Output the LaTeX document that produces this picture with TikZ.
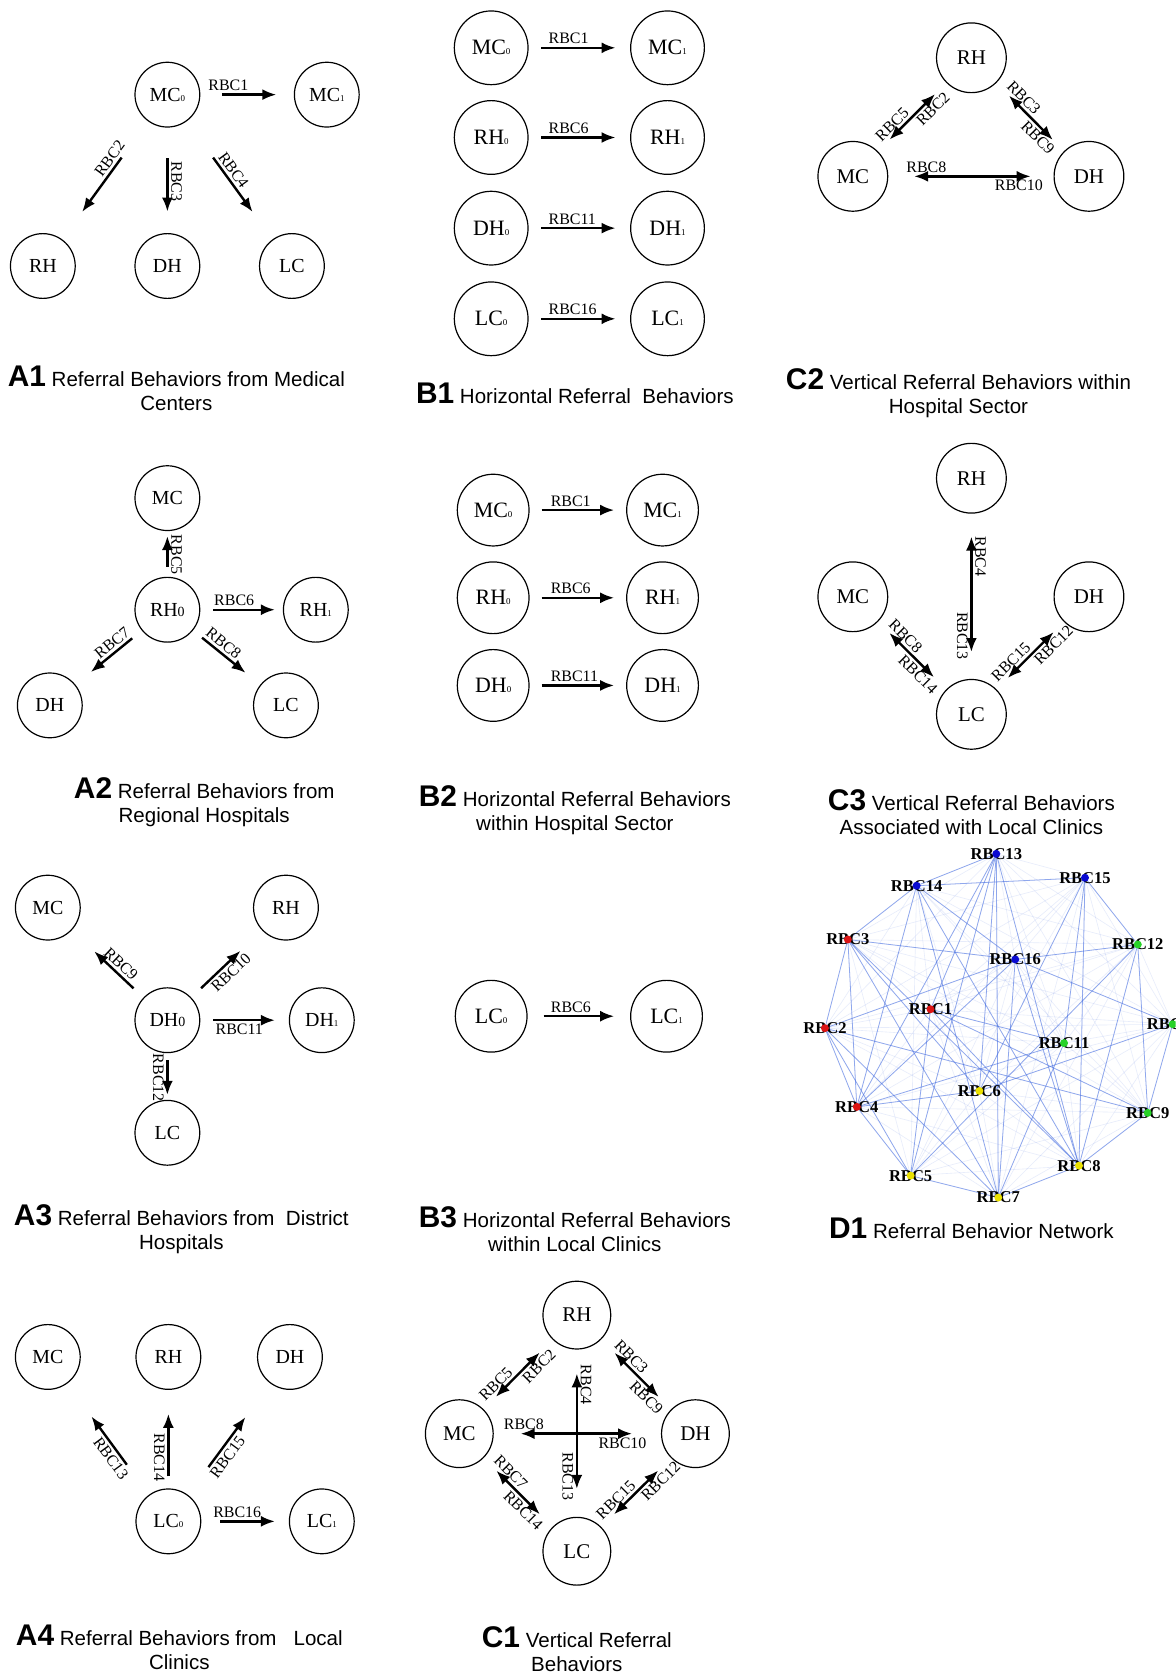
\documentclass[tikz,border=0pt]{standalone}
\usepackage{fontspec}
\setmainfont{Liberation Serif}
\setsansfont{Liberation Sans}
\usetikzlibrary{arrows.meta}
\tikzstyle{state} = [draw, circle, line width=0.6pt, inner sep=0pt, minimum size=32.5pt, font=\fontsize{10}{10}\selectfont]
\tikzstyle{bstate} = [state, minimum size=37pt, font=\fontsize{11}{11}\selectfont]
\tikzstyle{cstate} = [state, minimum size=35pt, font=\fontsize{10.5}{10.5}\selectfont]
\tikzstyle{arr} = [->, line width=1.2pt]
\tikzstyle{barr} = [<->, line width=1.2pt]
\tikzstyle{lbl} = [font=\fontsize{8}{8}\selectfont, inner sep=1.3pt]
\tikzstyle{captxt} = [align=center, font=\sffamily\fontsize{10.3}{12}\selectfont]
\tikzstyle{netdot} = [circle, inner sep=0pt, minimum size=4pt]
\tikzstyle{netlbl} = [font=\bfseries\fontsize{8.3}{8.3}\selectfont, inner sep=0pt]
\tikzstyle{netedge} = [draw=netblue, line width=0.4pt, opacity=0.55]
\tikzstyle{netfaint} = [draw=netblue, line width=0.3pt, opacity=0.13]
\tikzset{gap/.style 2 args={shorten <=#1, shorten >=#2}}
\definecolor{netblue}{RGB}{70,110,225}
\definecolor{netred}{RGB}{220,20,20}
\definecolor{netgreen}{RGB}{40,210,40}
\definecolor{netyellow}{RGB}{235,225,0}
\definecolor{netdark}{RGB}{10,10,210}
\newcommand{\sidx}[1]{{\fontsize{4.5}{4.5}\selectfont #1}}
\newcommand{\lidx}[1]{{\fontsize{7}{7}\selectfont #1}}
\newcommand{\panel}[1]{{\fontsize{15}{15}\selectfont\bfseries #1}}

\begin{document}
\begin{tikzpicture}[x=0.5pt, y=-0.5pt, >={Latex[length=7pt,width=5.5pt]}]

\fill[white] (0,0) rectangle (1180,1678);

% A1
\node [state] (a1mc0) at (168,95) {MC\sidx{0}};
\node [state] (a1mc1) at (328,95) {MC\sidx{1}};
\node [state] (a1rh) at (43,267) {RH};
\node [state] (a1dh) at (168,267) {DH};
\node [state] (a1lc) at (293,267) {LC};
\draw [arr, gap={10.8pt}{8.8pt}] (a1mc0) -- node [lbl, pos=0.3, above] {RBC1} (a1mc1);
\draw [arr, gap={22.5pt}{17pt}] (a1mc0) -- node [lbl, pos=0.36, sloped, above] {RBC2} (a1rh);
\draw [arr, gap={15.3pt}{10.8pt}] (a1mc0) -- node [lbl, pos=0.51, rotate=-90, above] {RBC3} (a1dh);
\draw [arr, gap={22.5pt}{17pt}] (a1mc0) -- node [lbl, pos=0.46, sloped, above] {RBC4} (a1lc);
\node [captxt] (capa1) at (177,390) {\panel{A1} Referral Behaviors from Medical\\Centers};

% B1
\node [bstate] (b1mc0) at (493,48) {MC\sidx{0}};
\node [bstate] (b1mc1) at (670,48) {MC\sidx{1}};
\node [bstate] (b1rh0) at (493,138) {RH\sidx{0}};
\node [bstate] (b1rh1) at (670,138) {RH\sidx{1}};
\node [bstate] (b1dh0) at (493,229) {DH\sidx{0}};
\node [bstate] (b1dh1) at (670,229) {DH\sidx{1}};
\node [bstate] (b1lc0) at (493,320) {LC\sidx{0}};
\node [bstate] (b1lc1) at (670,320) {LC\sidx{1}};
\draw [arr, gap={6.3pt}{7.3pt}] (b1mc0) -- node [lbl, pos=0.16, above right] {RBC1} (b1mc1);
\draw [arr, gap={6.3pt}{7.3pt}] (b1rh0) -- node [lbl, pos=0.16, above right] {RBC6} (b1rh1);
\draw [arr, gap={6.3pt}{7.3pt}] (b1dh0) -- node [lbl, pos=0.16, above right] {RBC11} (b1dh1);
\draw [arr, gap={6.3pt}{7.3pt}] (b1lc0) -- node [lbl, pos=0.16, above right] {RBC16} (b1lc1);
\node [captxt] (capb1) at (577,395) {\panel{B1} Horizontal Referral\ \ Behaviors};

% C2
\node [cstate] (c2rh) at (975,58) {RH};
\node [cstate] (c2mc) at (856,177) {MC};
\node [cstate] (c2dh) at (1093,177) {DH};
\draw [barr, gap={8.3pt}{8pt}] (c2mc) -- node [lbl, pos=0.3, sloped, above] {RBC5} node [lbl, pos=0.71, sloped, below] {RBC2} (c2rh);
\draw [barr, gap={9pt}{8pt}] (c2rh) -- node [lbl, pos=0.31, sloped, above] {RBC3} node [lbl, pos=0.71, sloped, below] {RBC9} (c2dh);
\draw [barr, gap={13pt}{11.5pt}] (c2mc) -- node [lbl, pos=0.23, above] {RBC8} node [lbl, pos=0.79, below] {RBC10} (c2dh);
\node [captxt] (capc2) at (962,395) {\panel{C2} Vertical Referral Behaviors within\\Hospital Sector};

% A2
\node [state] (a2mc) at (168,500) {MC};
\node [state] (a2rh0) at (168,612) {RH\lidx{0}};
\node [state] (a2rh1) at (317,612) {RH\sidx{1}};
\node [state] (a2dh) at (50,708) {DH};
\node [state] (a2lc) at (287,708) {LC};
\draw [arr, gap={5pt}{2.5pt}] (a2rh0) -- node [lbl, pos=0.48, rotate=-90, above] {RBC5} (a2mc);
\draw [arr, gap={6.5pt}{4pt}] (a2rh0) -- node [lbl, pos=0.41, above] {RBC6} (a2rh1);
\draw [arr, gap={6.2pt}{10pt}] (a2rh0) -- node [lbl, pos=0.36, sloped, above] {RBC7} (a2dh);
\draw [arr, gap={5.8pt}{9.5pt}] (a2rh0) -- node [lbl, pos=0.37, sloped, above] {RBC8} (a2lc);
\node [captxt] (capa2) at (205,805) {\panel{A2} Referral Behaviors from\\Regional Hospitals};

% B2
\node [bstate, minimum size=36pt] (b2mc0) at (495,512) {MC\sidx{0}};
\node [bstate, minimum size=36pt] (b2mc1) at (665,512) {MC\sidx{1}};
\node [bstate, minimum size=36pt] (b2rh0) at (495,600) {RH\sidx{0}};
\node [bstate, minimum size=36pt] (b2rh1) at (665,600) {RH\sidx{1}};
\node [bstate, minimum size=36pt] (b2dh0) at (495,688) {DH\sidx{0}};
\node [bstate, minimum size=36pt] (b2dh1) at (665,688) {DH\sidx{1}};
\draw [arr, gap={6pt}{6pt}] (b2mc0) -- node [lbl, pos=0.18, above right] {RBC1} (b2mc1);
\draw [arr, gap={6pt}{6pt}] (b2rh0) -- node [lbl, pos=0.18, above right] {RBC6} (b2rh1);
\draw [arr, gap={6pt}{6pt}] (b2dh0) -- node [lbl, pos=0.18, above right] {RBC11} (b2dh1);
\node [captxt] (capb2) at (577,813) {\panel{B2} Horizontal Referral Behaviors\\within Hospital Sector};

% C3
\node [cstate] (c3rh) at (975,480) {RH};
\node [cstate] (c3mc) at (856,599) {MC};
\node [cstate] (c3dh) at (1093,599) {DH};
\node [cstate] (c3lc) at (975,717) {LC};
\draw [barr, gap={11.5pt}{13.5pt}] (c3rh) -- node [lbl, pos=0.26, rotate=-90, above] {RBC4} node [lbl, pos=0.74, rotate=-90, below] {RBC13} (c3lc);
\draw [barr, gap={8pt}{8.7pt}] (c3mc) -- node [lbl, pos=0.31, sloped, above] {RBC8} node [lbl, pos=0.68, sloped, below] {RBC14} (c3lc);
\draw [barr, gap={7.3pt}{8pt}] (c3dh) -- node [lbl, pos=0.69, sloped, above] {RBC15} node [lbl, pos=0.25, sloped, below] {RBC12} (c3lc);
\node [captxt] (capc3) at (975,815) {\panel{C3} Vertical Referral Behaviors\\Associated with Local Clinics};

% A3
\node [state] (a3mc) at (48,911) {MC};
\node [state] (a3rh) at (287,911) {RH};
\node [state] (a3dh0) at (168,1024) {DH\lidx{0}};
\node [state] (a3dh1) at (323,1024) {DH\sidx{1}};
\node [state] (a3lc) at (168,1137) {LC};
\draw [arr, gap={6.8pt}{15.5pt}] (a3dh0) -- node [lbl, pos=0.4, sloped, above] {RBC9} (a3mc);
\draw [arr, gap={6.8pt}{15pt}] (a3dh0) -- node [lbl, pos=0.47, sloped, below] {RBC10} (a3rh);
\draw [arr, gap={6.5pt}{7pt}] (a3dh0) -- node [lbl, pos=0.44, below] {RBC11} (a3dh1);
\draw [arr, gap={3.5pt}{2.5pt}] (a3dh0) -- node [lbl, pos=0.53, rotate=-90, below] {RBC12} (a3lc);
\node [captxt] (capa3) at (182,1234) {\panel{A3} Referral Behaviors from\ \ District\\Hospitals};

% B3
\node [bstate, minimum size=36pt] (b3lc0) at (493,1020) {LC\sidx{0}};
\node [bstate, minimum size=36pt] (b3lc1) at (669,1020) {LC\sidx{1}};
\draw [arr, gap={8pt}{8pt}] (b3lc0) -- node [lbl, pos=0.19, above right] {RBC6} (b3lc1);
\node [captxt] (capb3) at (577,1234) {\panel{B3} Horizontal Referral Behaviors\\within Local Clinics};

% D1
\begin{scope}
\clip (0,0) rectangle (1180,1678);
\foreach \n/\x/\y in {1/934/1013, 2/828/1032, 3/851/943, 4/860/1111, 5/914/1180, 6/983/1095, 7/1002/1202, 8/1083/1170,
  9/1152/1117, 10/1177/1028, 11/1068/1047, 12/1142/948, 13/1000/857, 14/920/889, 15/1089/881, 16/1019/963}
  \coordinate (r\n) at (\x,\y);
\foreach \a in {1,...,16} {
  \foreach \b in {1,...,16} {
    \ifnum\a<\b \draw [netfaint] (r\a) -- (r\b); \fi
  }
}
\foreach \a/\b in {13/14, 13/5, 13/7, 13/8, 13/4, 13/6, 14/15, 14/3, 14/16, 14/8, 14/7,
  15/6, 15/8, 15/11, 15/12, 3/16, 3/2, 3/7, 3/8, 3/6, 3/4, 12/16, 12/8, 12/9, 12/5,
  16/10, 16/2, 16/7, 16/8, 16/4, 1/8, 1/5, 1/9, 1/13, 2/9, 2/7, 2/5, 2/4, 10/6, 10/9,
  11/7, 11/4, 6/4, 4/5, 9/8, 8/7, 5/7, 1/11, 14/4}
  \draw [netedge] (r\a) -- (r\b);
\foreach \n/\c in {1/netred, 2/netred, 3/netred, 4/netred, 5/netyellow, 6/netyellow, 7/netyellow, 8/netyellow,
  9/netgreen, 10/netgreen, 11/netgreen, 12/netgreen, 13/netdark, 14/netdark, 15/netdark, 16/netdark} {
  \node [netlbl] (t\n) at (r\n) {RBC\n};
  \node [netdot, fill=\c] (d\n) at (r\n) {};
}
\end{scope}
\node [captxt] (capd1) at (975,1233) {\panel{D1} Referral Behavior Network};

% A4
\node [state] (a4mc) at (48,1362) {MC};
\node [state] (a4rh) at (169,1362) {RH};
\node [state] (a4dh) at (291,1362) {DH};
\node [state] (a4lc0) at (169,1527) {LC\sidx{0}};
\node [state] (a4lc1) at (323,1527) {LC\sidx{1}};
\draw [arr, gap={18.7pt}{20.5pt}] (a4lc0) -- node [lbl, pos=0.375, sloped, below] {RBC13} (a4mc);
\draw [arr, gap={6pt}{12pt}] (a4lc0) -- node [lbl, pos=0.315, rotate=-90, below] {RBC14} (a4rh);
\draw [arr, gap={17.3pt}{21pt}] (a4lc0) -- node [lbl, pos=0.39, sloped, below] {RBC15} (a4dh);
\draw [arr, gap={9.5pt}{7pt}] (a4lc0) -- node [lbl, pos=0.41, above] {RBC16} (a4lc1);
\node [captxt] (capa4) at (180,1653) {\panel{A4} Referral Behaviors from\ \ \ Local\\Clinics};

% C1
\node [cstate, minimum size=34pt] (c1rh) at (579,1320) {RH};
\node [cstate, minimum size=34pt] (c1mc) at (461,1439) {MC};
\node [cstate, minimum size=34pt] (c1dh) at (698,1439) {DH};
\node [cstate, minimum size=34pt] (c1lc) at (579,1557) {LC};
\draw [barr, gap={8.8pt}{9.2pt}] (c1mc) -- node [lbl, pos=0.27, sloped, above] {RBC5} node [lbl, pos=0.71, sloped, below] {RBC2} (c1rh);
\draw [barr, gap={9.5pt}{8.8pt}] (c1rh) -- node [lbl, pos=0.34, sloped, above] {RBC3} node [lbl, pos=0.74, sloped, below] {RBC9} (c1dh);
\draw [barr, gap={9pt}{9pt}] (c1mc) -- node [lbl, pos=0.3, sloped, above] {RBC7} node [lbl, pos=0.67, sloped, below] {RBC14} (c1lc);
\draw [barr, gap={9pt}{9pt}] (c1dh) -- node [lbl, pos=0.7, sloped, above] {RBC15} node [lbl, pos=0.24, sloped, below] {RBC12} (c1lc);
\draw [barr, gap={12pt}{14pt}] (c1rh) -- node [lbl, pos=0.21, rotate=-90, above] {RBC4} node [lbl, pos=0.76, rotate=-90, below] {RBC13} (c1lc);
\draw [barr, gap={13.5pt}{14.5pt}] (c1mc) -- node [lbl, pos=0.18, above] {RBC8} node [lbl, pos=0.77, below] {RBC10} (c1dh);
\node [captxt] (capc1) at (579,1655) {\panel{C1} Vertical Referral\\Behaviors};

\end{tikzpicture}
\end{document}
